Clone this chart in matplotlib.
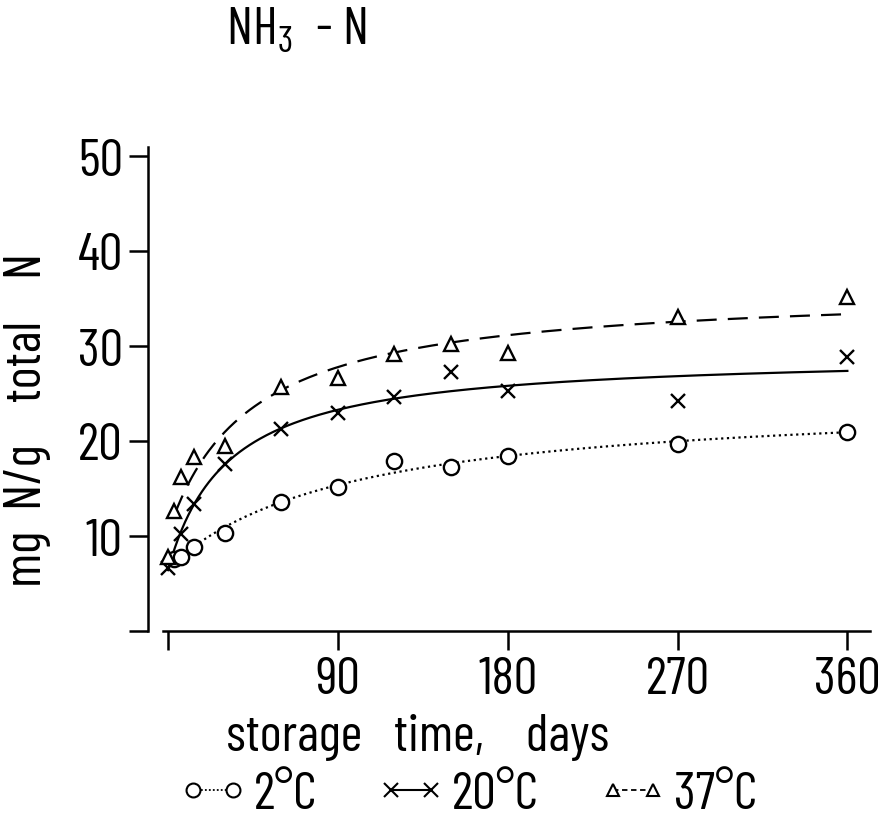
import numpy as np
import matplotlib
matplotlib.use("Agg")
import matplotlib.pyplot as plt
from matplotlib import font_manager as fm
from matplotlib.legend_handler import HandlerLine2D

# ---------------- data ----------------
days_2c = [3, 7, 14, 30, 60, 90, 120, 150, 180, 270, 360]
vals_2c = [7.6, 7.8, 8.8, 10.3, 13.6, 15.2, 17.9, 17.3, 18.4, 19.7, 20.9]

days_20c = [0, 7, 14, 30, 60, 90, 120, 150, 180, 270, 360]
vals_20c = [6.6, 10.2, 13.4, 17.6, 21.3, 22.9, 24.6, 27.3, 25.3, 24.2, 28.8]

days_37c = [0, 3, 7, 14, 30, 60, 90, 120, 150, 180, 270, 360]
vals_37c = [7.8, 12.6, 16.2, 18.3, 19.5, 25.7, 26.6, 29.2, 30.2, 29.3, 33.1, 35.2]

labels = ["2°C", "20°C", "37°C"]
x_ticks = [0, 90, 180, 270, 360]
x_ticklabels = ["", "90", "180", "270", "360"]
y_ticks = [0, 10, 20, 30, 40, 50]
y_ticklabels = ["", "10", "20", "30", "40", "50"]

# ---------------- font ----------------
names = {f.name for f in fm.fontManager.ttflist}
fam = "DejaVu Sans"
for cand in ["Barlow Condensed", "Roboto Condensed", "Archivo Narrow", "PT Sans Narrow",
             "Sofia Sans Condensed", "Liberation Sans Narrow"]:
    if cand in names:
        fam = cand
        break
plt.rcParams["font.family"] = [fam, "DejaVu Sans"]
plt.rcParams["mathtext.fontset"] = "custom"
plt.rcParams["mathtext.rm"] = fam
FS = 38


def fit_hyper(t, y):
    t = np.asarray(t, float)
    y = np.asarray(y, float)
    best = None
    for b in np.linspace(2, 300, 2000):
        X = np.column_stack([np.ones_like(t), t / (b + t)])
        coef = np.linalg.lstsq(X, y, rcond=None)[0]
        sse = ((X @ coef - y) ** 2).sum()
        if best is None or sse < best[0]:
            best = (sse, coef[0], coef[1], b)
    _, c, a, b = best
    return lambda tt: c + a * tt / (b + tt)


W, H = 882, 820
fig = plt.figure(figsize=(W / 100, H / 100), dpi=100)
left, right = 148, 870
bottom, top = 632, 147.5
ax = fig.add_axes([left / W, (H - bottom) / H, (right - left) / W, (bottom - top) / H])
ax.set_xlim(-10.6, 372)
ax.set_ylim(0, 51)

lw = 1.6
mew = 1.7
tt = np.linspace(0, 360, 400)

f2 = fit_hyper(days_2c, vals_2c)
f20 = fit_hyper(days_20c, vals_20c)
f37 = fit_hyper(days_37c, vals_37c)

ax.plot(tt[tt >= 4], f2(tt[tt >= 4]), color="black", lw=lw, linestyle=(0, (1, 1.6)))
ax.plot(tt, f20(tt), color="black", lw=lw, linestyle="-")
ax.plot(tt[tt >= 3], f37(tt[tt >= 3]), color="black", lw=lw, linestyle=(0, (9, 5)))

ax.plot(days_2c, vals_2c, "o", ms=11, mfc="white", mec="black", mew=mew, zorder=3)
ax.plot(days_20c, vals_20c, "x", ms=10, mec="black", mew=mew, zorder=3)
ax.plot(days_37c, vals_37c, "^", ms=10, mfc="white", mec="black", mew=mew, zorder=3)

for s in ["top", "right"]:
    ax.spines[s].set_visible(False)
ax.spines["left"].set_linewidth(1.8)
ax.spines["bottom"].set_linewidth(1.8)
ax.spines["left"].set_bounds(0, 51)
ax.spines["bottom"].set_bounds(-2.7, 372)

ax.set_xticks(x_ticks)
ax.set_xticklabels(x_ticklabels)
ax.set_yticks(y_ticks)
ax.set_yticklabels(y_ticklabels)
ax.tick_params(axis="both", direction="out", length=14, width=1.8, labelsize=FS, pad=4)

fig.text(418 / W, (H - 751) / H, "storage   time,    days", fontsize=FS, ha="center", va="baseline")
fig.text(28 / W, (H - 420) / H, "mg  N/g    total    N", fontsize=FS, rotation=90, ha="center", va="center")
fig.text(226 / W, (H - 44) / H, r"NH$_3$  - N", fontsize=FS, ha="left", va="baseline")

# legend
h1, = ax.plot([], [], marker="o", ms=10, mfc="white", mec="black", mew=1.5, color="black", lw=1.3, linestyle=(0, (1, 1.2)))
h2, = ax.plot([], [], marker="x", ms=10, mec="black", mew=1.5, color="black", lw=1.5, linestyle="-")
h3, = ax.plot([], [], marker="^", ms=9, mfc="white", mec="black", mew=1.5, color="black", lw=1.3, linestyle=(0, (3, 2)))
hm = {h: HandlerLine2D(marker_pad=0.0, numpoints=2) for h in (h1, h2, h3)}
fig.legend([h1, h2, h3], labels, loc="center left", bbox_to_anchor=(193 / W, (H - 796) / H),
           ncol=3, frameon=False, handler_map=hm, handlelength=0.75, handletextpad=0.4,
           columnspacing=1.4, fontsize=FS, borderpad=0, borderaxespad=0)

fig.savefig("out.png", dpi=100)
